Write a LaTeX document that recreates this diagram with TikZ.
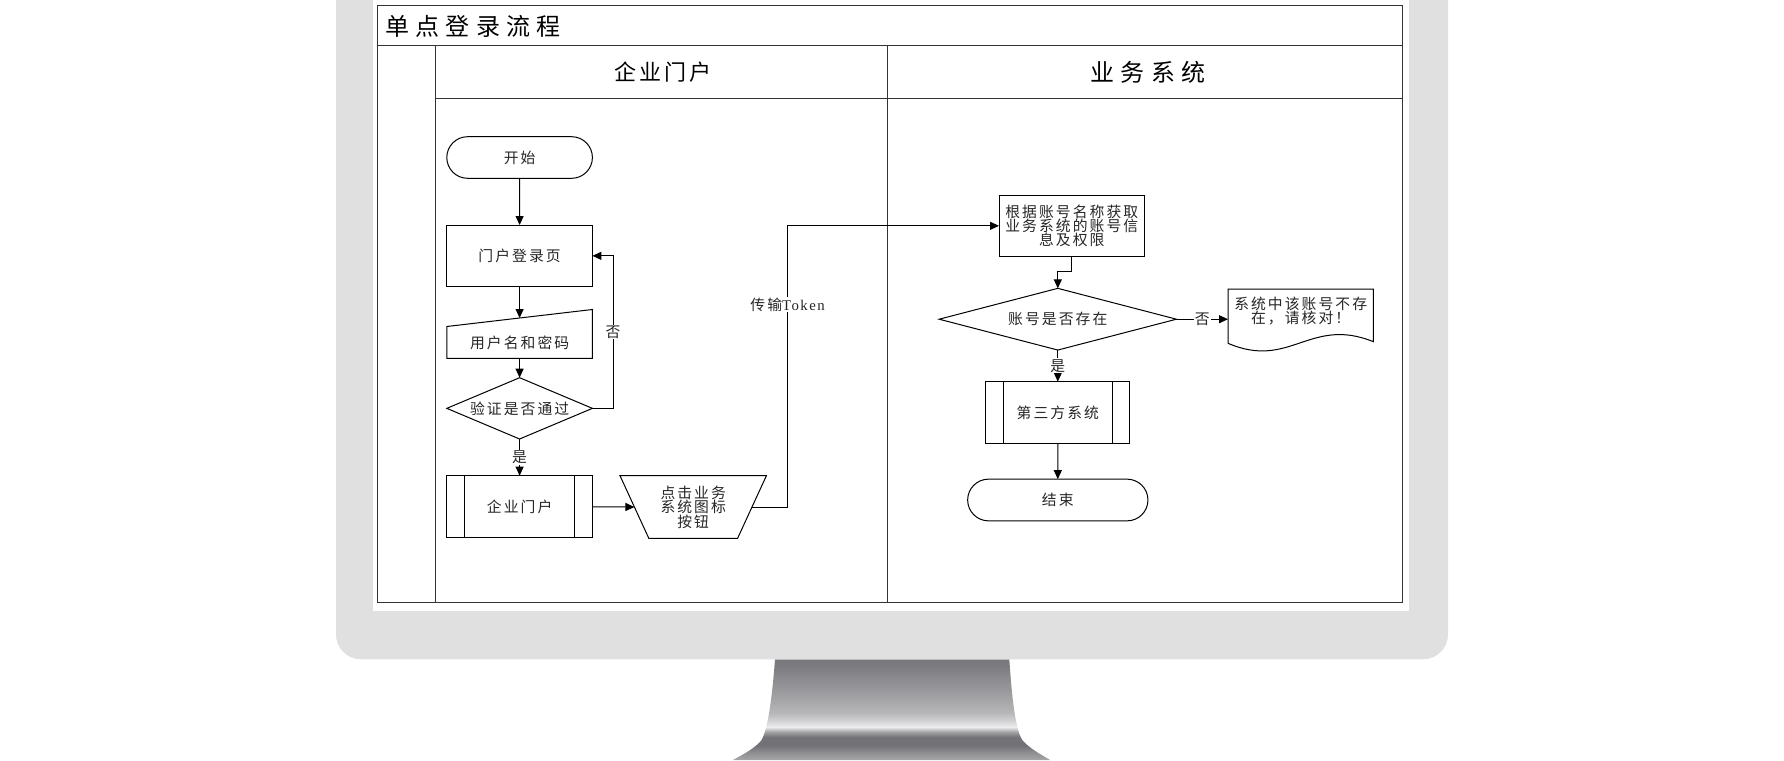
\documentclass[tikz,border=0pt]{standalone}
\usepackage{fontspec}
\usepackage{xcolor}
\usepackage{tikz}
\setmainfont{Noto Sans CJK SC}
\newfontfamily\boxfont{Noto Sans CJK SC}[LetterSpace=14]
\newfontfamily\headfont{Noto Sans CJK SC}[LetterSpace=26]
\newfontfamily\lanefont{Noto Sans CJK SC}[LetterSpace=15]
\newfontfamily\tokenfont{Liberation Serif}[LetterSpace=10]
\usetikzlibrary{arrows.meta,shapes.geometric,shapes.misc}
\definecolor{bezel}{RGB}{224,224,224}
\pgfdeclareverticalshading{standshade}{100bp}{rgb(0bp)=(0.65,0.65,0.66); rgb(25bp)=(0.65,0.65,0.66); rgb(29bp)=(0.55,0.55,0.56); rgb(32.4bp)=(0.44,0.44,0.46); rgb(36.4bp)=(0.45,0.45,0.47); rgb(38.9bp)=(0.63,0.63,0.64); rgb(41.4bp)=(0.93,0.93,0.93); rgb(43.9bp)=(0.84,0.84,0.85); rgb(48.3bp)=(0.72,0.72,0.73); rgb(54.8bp)=(0.65,0.65,0.66); rgb(64.7bp)=(0.55,0.55,0.57); rgb(72.2bp)=(0.48,0.48,0.5); rgb(75bp)=(0.47,0.47,0.49); rgb(100bp)=(0.47,0.47,0.49)}

\begin{document}
\begin{tikzpicture}[x=1pt,y=-1pt,
	flow/.style={-{Triangle[length=9pt,width=8pt]},line width=1pt},
	frame/.style={draw=black!80,line width=1.3pt},
	txt/.style={font=\boxfont\fontsize{14.8}{14.4}\selectfont,text=black!85,align=center,inner sep=0pt,outer sep=0pt},
	box/.style={txt,draw,line width=1pt,minimum width=145.6pt,minimum height=61.7pt},
	term/.style={txt,draw,line width=1pt,rounded rectangle,minimum height=41.6pt},
	judge/.style={txt,draw,line width=1pt,diamond},
	lbl/.style={txt,fill=white,inner sep=1pt}]
	\fill[white] (0,0) rectangle (1784,760);
	\useasboundingbox (0,0) rectangle (1784,760);

	% monitor
	\shade[shading=standshade] (775,659.3) -- (1009.3,659.3) .. controls (1012,700) and (1016,735) .. (1024,742) .. controls (1032,750) and (1042,755) .. (1050,760) -- (733,760) .. controls (742,755) and (752,750) .. (760,742) .. controls (767,735) and (772,700) .. (775,659.3) -- cycle;
	\fill[bezel,rounded corners=25pt] (336,-40) rectangle (1448,659.3);
	\fill[white] (373,-10) rectangle (1409,611);

	% swimlanes
	\draw[frame] (377.5,5.3) rectangle (1402.5,602.7);
	\draw[frame] (377.5,45.7) -- (1402.5,45.7);
	\draw[frame,line width=1pt] (435.7,45.7) -- (435.7,602.7);
	\draw[frame,line width=1pt] (887.5,45.7) -- (887.5,602.7);
	\draw[frame,line width=1pt] (435.7,98.7) -- (1402.5,98.7);
	\node[anchor=west,font=\headfont\fontsize{24}{26}\selectfont] (title) at (382,26) {单点登录流程};
	\node[font=\lanefont\fontsize{22}{24}\selectfont] (laneA) at (663,72) {企业门户};
	\node[font=\headfont\fontsize{24}{26}\selectfont] (laneB) at (1148,72) {业务系统};

	% portal lane
	\node[term,minimum width=145.6pt] (start) at (519.6,157.5) {开始};
	\node[box] (login) at (519.6,255.85) {门户登录页};
	\node[txt,minimum width=145.6pt,minimum height=31.9pt] (cred) at (519.6,342.45) {用户名和密码};
	\draw[line width=1pt] (cred.south west) -- (cred.south east) -- ([yshift=17pt]cred.north east) -- (cred.north west) -- cycle;
	\node[judge,minimum width=145.6pt,minimum height=61.3pt,aspect=2.37] (verify) at (519.6,408.35) {验证是否通过};
	\node[box,minimum height=62pt] (portal) at (519.6,506.7) {企业门户};
	\node[txt,minimum width=146.4pt,minimum height=62.6pt] (click) at (693.2,507) {点击业务\\系统图标\\按钮};
	\draw[line width=1pt] (click.north west) -- (click.north east) -- ([xshift=-28.8pt]click.south east) -- ([xshift=28.8pt]click.south west) -- cycle;

	% business lane
	\node[box] (fetch) at (1071.8,225.85) {根据账号名称获取\\业务系统的账号信\\息及权限};
	\node[judge,minimum width=237.3pt,minimum height=61.7pt,aspect=3.85] (exist) at (1057.8,319.2) {账号是否存在};
	\node[txt,minimum width=145.4pt,minimum height=44.6pt] (msg) at (1300.7,311.3) {系统中该账号不存\\在，请核对！};
	\draw[line width=1pt] (msg.south west) -- (msg.north west) -- (msg.north east) -- (1373.4,341.7) .. controls (1310,316) and (1290,370) .. (1228,343.3) -- cycle;
	\node[box,minimum width=144pt] (third) at (1057.8,412.5) {第三方系统};
	\node[term,minimum width=180.3pt,minimum height=41.7pt] (stop) at (1057.8,500) {结束};

	\foreach \n in {portal,third} {
		\draw[line width=1pt] ([xshift=17.5pt]\n.north west) -- ([xshift=17.5pt]\n.south west);
		\draw[line width=1pt] ([xshift=-17.5pt]\n.north east) -- ([xshift=-17.5pt]\n.south east);
	}

	% connectors
	\draw[flow] (start) -- (login);
	\draw[flow] (login) -- ([yshift=8.5pt]cred.north);
	\draw[flow] (cred) -- (verify);
	\draw[flow] (verify.east) -- ++(20.7,0) |- node[lbl,pos=0.25] {否} (login.east);
	\draw[flow] (verify) -- node[lbl] {是} (portal);
	\draw[flow] (portal) -- ([xshift=14.4pt]click.west);
	\draw[flow] ([xshift=-14.4pt]click.east) -- ++(35.6,0) |- node[lbl,pos=0.36] {传输{\tokenfont Token}} (fetch.west);
	\draw[flow] (fetch.south) -- ++(0,15) -| (exist.north);
	\draw[flow] (exist.east) -- node[lbl] {否} (exist.east -| msg.west);
	\draw[flow] (exist) -- node[lbl] {是} (third);
	\draw[flow] (third) -- (stop);
\end{tikzpicture}
\end{document}
